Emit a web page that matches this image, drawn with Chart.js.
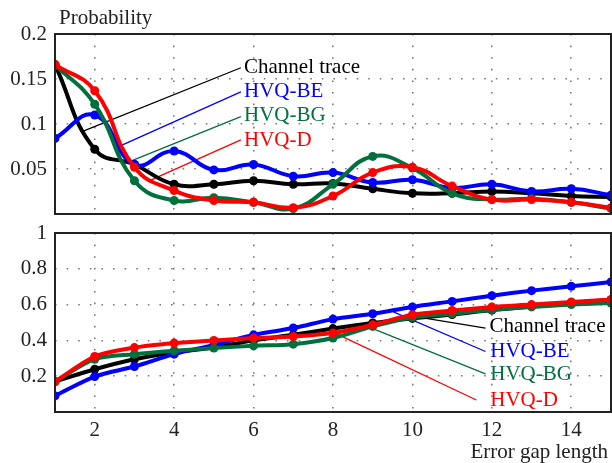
<!DOCTYPE html>
<html>
<head>
<meta charset="utf-8">
<script src="https://cdn.jsdelivr.net/npm/chart.js@4.4.1/dist/chart.umd.min.js"></script>
<style>
  html, body { margin: 0; padding: 0; background: #fff; }
  #wrap { position: relative; width: 612px; height: 463px; }
  canvas { position: absolute; left: 0; }
  #pdfChart { top: 0; }
  #cdfChart { top: 215px; }
</style>
</head>
<body>
<div id="wrap">
  <canvas id="pdfChart" width="612" height="215"></canvas>
  <canvas id="cdfChart" width="612" height="248"></canvas>
</div>
<script>
// error gap lengths on the x axis
const gapLength = [1, 2, 3, 4, 5, 6, 7, 8, 9, 10, 11, 12, 13, 14, 15];

// probability of each gap length
const pdfChannel = [0.166, 0.072, 0.055, 0.033, 0.033, 0.037, 0.033, 0.034, 0.028, 0.023, 0.023, 0.025, 0.023, 0.020, 0.019];
const pdfBE      = [0.084, 0.110, 0.055, 0.070, 0.049, 0.055, 0.042, 0.046, 0.035, 0.038, 0.029, 0.033, 0.025, 0.028, 0.021];
const pdfBG      = [0.166, 0.122, 0.037, 0.015, 0.018, 0.013, 0.006, 0.033, 0.064, 0.051, 0.023, 0.016, 0.017, 0.013, 0.006];
const pdfD       = [0.166, 0.137, 0.052, 0.026, 0.015, 0.013, 0.007, 0.020, 0.046, 0.052, 0.031, 0.016, 0.016, 0.013, 0.007];

// cumulative probability
const cdfChannel = [0.170, 0.239, 0.295, 0.334, 0.360, 0.400, 0.431, 0.466, 0.497, 0.523, 0.545, 0.570, 0.590, 0.609, 0.627];
const cdfBE      = [0.090, 0.198, 0.254, 0.323, 0.375, 0.431, 0.469, 0.519, 0.549, 0.587, 0.618, 0.650, 0.678, 0.702, 0.726];
const cdfBG      = [0.170, 0.295, 0.323, 0.342, 0.357, 0.370, 0.379, 0.413, 0.478, 0.528, 0.549, 0.571, 0.587, 0.600, 0.609];
const cdfD       = [0.170, 0.310, 0.360, 0.385, 0.400, 0.413, 0.422, 0.441, 0.487, 0.543, 0.567, 0.587, 0.600, 0.615, 0.627];

const seriesNames = ['Channel trace', 'HVQ-BE', 'HVQ-BG', 'HVQ-D'];
const xTicks = [2, 4, 6, 8, 10, 12, 14];
const pdfTicks = [0.05, 0.1, 0.15, 0.2];
const cdfTicks = [0.2, 0.4, 0.6, 0.8, 1];

const colors = ['#000000', '#0000ff', '#00703c', '#ff0000'];
const FONT = '"Liberation Serif", "Times New Roman", serif';
const TEXT = '#222222';

function makeDatasets(series, tension) {
  return series.map((vals, i) => ({
    label: seriesNames[i],
    data: vals.map((v, k) => ({ x: gapLength[k], y: v })),
    borderColor: colors[i],
    backgroundColor: colors[i],
    borderWidth: 4,
    pointRadius: 4.5,
    pointBorderWidth: 0,
    pointBackgroundColor: colors[i],
    tension: tension,
    order: 3 - i   // red ends up on top
  }));
}

// dotted grid, frame drawn by the plugin below
const gridStyle = { color: '#7a7a7a', lineWidth: 1.6, drawTicks: false };
const borderStyle = { display: false, dash: [1.6, 10] };

function fixedTicks(list) {
  return function (scale) { scale.ticks = list.map(v => ({ value: v })); };
}

// box around the plot area
const framePlugin = {
  id: 'frame',
  afterDraw(chart) {
    const a = chart.chartArea, ctx = chart.ctx;
    ctx.save();
    ctx.strokeStyle = '#222';
    ctx.lineWidth = 2;
    ctx.strokeRect(a.left, a.top, a.right - a.left, a.bottom - a.top);
    ctx.restore();
  }
};

// leader lines with series names
const calloutPlugin = {
  id: 'callouts',
  beforeDatasetsDraw(chart, args, opts) {
    const ctx = chart.ctx, xs = chart.scales.x, ys = chart.scales.y;
    ctx.save();
    ctx.lineWidth = 1.3;
    (opts.items || []).forEach(it => {
      ctx.strokeStyle = colors[it.series];
      ctx.beginPath();
      ctx.moveTo(xs.getPixelForValue(it.from[0]), ys.getPixelForValue(it.from[1]));
      ctx.lineTo(xs.getPixelForValue(it.to[0]), ys.getPixelForValue(it.to[1]));
      ctx.stroke();
    });
    ctx.restore();
  },
  afterDraw(chart, args, opts) {
    const ctx = chart.ctx, xs = chart.scales.x, ys = chart.scales.y;
    ctx.save();
    ctx.font = '21px ' + FONT;
    ctx.textBaseline = 'middle';
    ctx.textAlign = 'left';
    (opts.items || []).forEach(it => {
      ctx.fillStyle = colors[it.series];
      ctx.fillText(seriesNames[it.series], xs.getPixelForValue(it.text[0]), ys.getPixelForValue(it.text[1]));
    });
    ctx.restore();
  }
};

// axis captions
const captionPlugin = {
  id: 'caption',
  afterDraw(chart, args, opts) {
    if (!opts.text) return;
    const a = chart.chartArea, ctx = chart.ctx;
    ctx.save();
    ctx.font = '21px ' + FONT;
    ctx.fillStyle = TEXT;
    ctx.textBaseline = 'middle';
    if (opts.where === 'top') {
      ctx.textAlign = 'left';
      ctx.fillText(opts.text, a.left + 4, a.top - 16);
    } else {
      ctx.textAlign = 'right';
      ctx.fillText(opts.text, a.right - 3, a.bottom + 40);
    }
    ctx.restore();
  }
};

function baseOptions(cfg) {
  return {
    responsive: false,
    animation: false,
    devicePixelRatio: 1,
    layout: { padding: cfg.padding, autoPadding: false },
    plugins: {
      legend: { display: false },
      tooltip: { enabled: false },
      callouts: { items: cfg.callouts },
      caption: cfg.caption
    },
    scales: {
      x: {
        type: 'linear',
        min: 1, max: 15,
        afterBuildTicks: fixedTicks(xTicks),
        afterFit(s) { s.height = cfg.xHeight; s.paddingLeft = 0; s.paddingRight = 0; },
        grid: gridStyle,
        border: borderStyle,
        ticks: {
          display: cfg.xLabels,
          padding: 6,
          color: TEXT,
          font: { family: FONT, size: 21 }
        }
      },
      y: {
        min: cfg.yMin, max: cfg.yMax,
        afterBuildTicks: fixedTicks(cfg.yTicks),
        // labels never reach the bottom edge, so no extra room is needed there
        afterFit(s) { s.width = 55; s.paddingTop = 0; s.paddingBottom = 0; },
        grid: gridStyle,
        border: borderStyle,
        ticks: {
          padding: 8,
          color: TEXT,
          font: { family: FONT, size: 21 },
          callback: v => String(+v.toFixed(2))
        }
      }
    }
  };
}

new Chart(document.getElementById('pdfChart'), {
  type: 'line',
  data: { datasets: makeDatasets([pdfChannel, pdfBE, pdfBG, pdfD], 0.45) },
  options: baseOptions({
    padding: { top: 34, right: 1, bottom: 1, left: 0 },
    xHeight: 0,
    xLabels: false,
    yMin: 0, yMax: 0.2,
    yTicks: pdfTicks,
    caption: { text: 'Probability', where: 'top' },
    callouts: [
      { series: 0, from: [1.68, 0.0915], to: [5.68, 0.1625], text: [5.76, 0.163] },
      { series: 1, from: [2.63, 0.0755], to: [5.68, 0.1356], text: [5.76, 0.136] },
      { series: 2, from: [2.86, 0.058],  to: [5.68, 0.1083], text: [5.76, 0.109] },
      { series: 3, from: [3.41, 0.0376], to: [5.68, 0.0823], text: [5.76, 0.082] }
    ]
  }),
  plugins: [framePlugin, calloutPlugin, captionPlugin]
});

new Chart(document.getElementById('cdfChart'), {
  type: 'line',
  data: { datasets: makeDatasets([cdfChannel, cdfBE, cdfBG, cdfD], 0.3) },
  options: baseOptions({
    padding: { top: 18, right: 1, bottom: 0, left: 0 },
    xHeight: 51,
    xLabels: true,
    yMin: 0, yMax: 1,
    yTicks: cdfTicks,
    caption: { text: 'Error gap length', where: 'bottom' },
    callouts: [
      { series: 0, from: [10.04, 0.534], to: [11.84, 0.468], text: [11.94, 0.476] },
      { series: 1, from: [9.52, 0.559],  to: [11.84, 0.338], text: [11.96, 0.339] },
      { series: 2, from: [8.97, 0.469],  to: [11.84, 0.213], text: [11.96, 0.207] },
      { series: 3, from: [8.05, 0.441],  to: [11.61, 0.067], text: [11.96, 0.067] }
    ]
  }),
  plugins: [framePlugin, calloutPlugin, captionPlugin]
});
</script>
</body>
</html>
